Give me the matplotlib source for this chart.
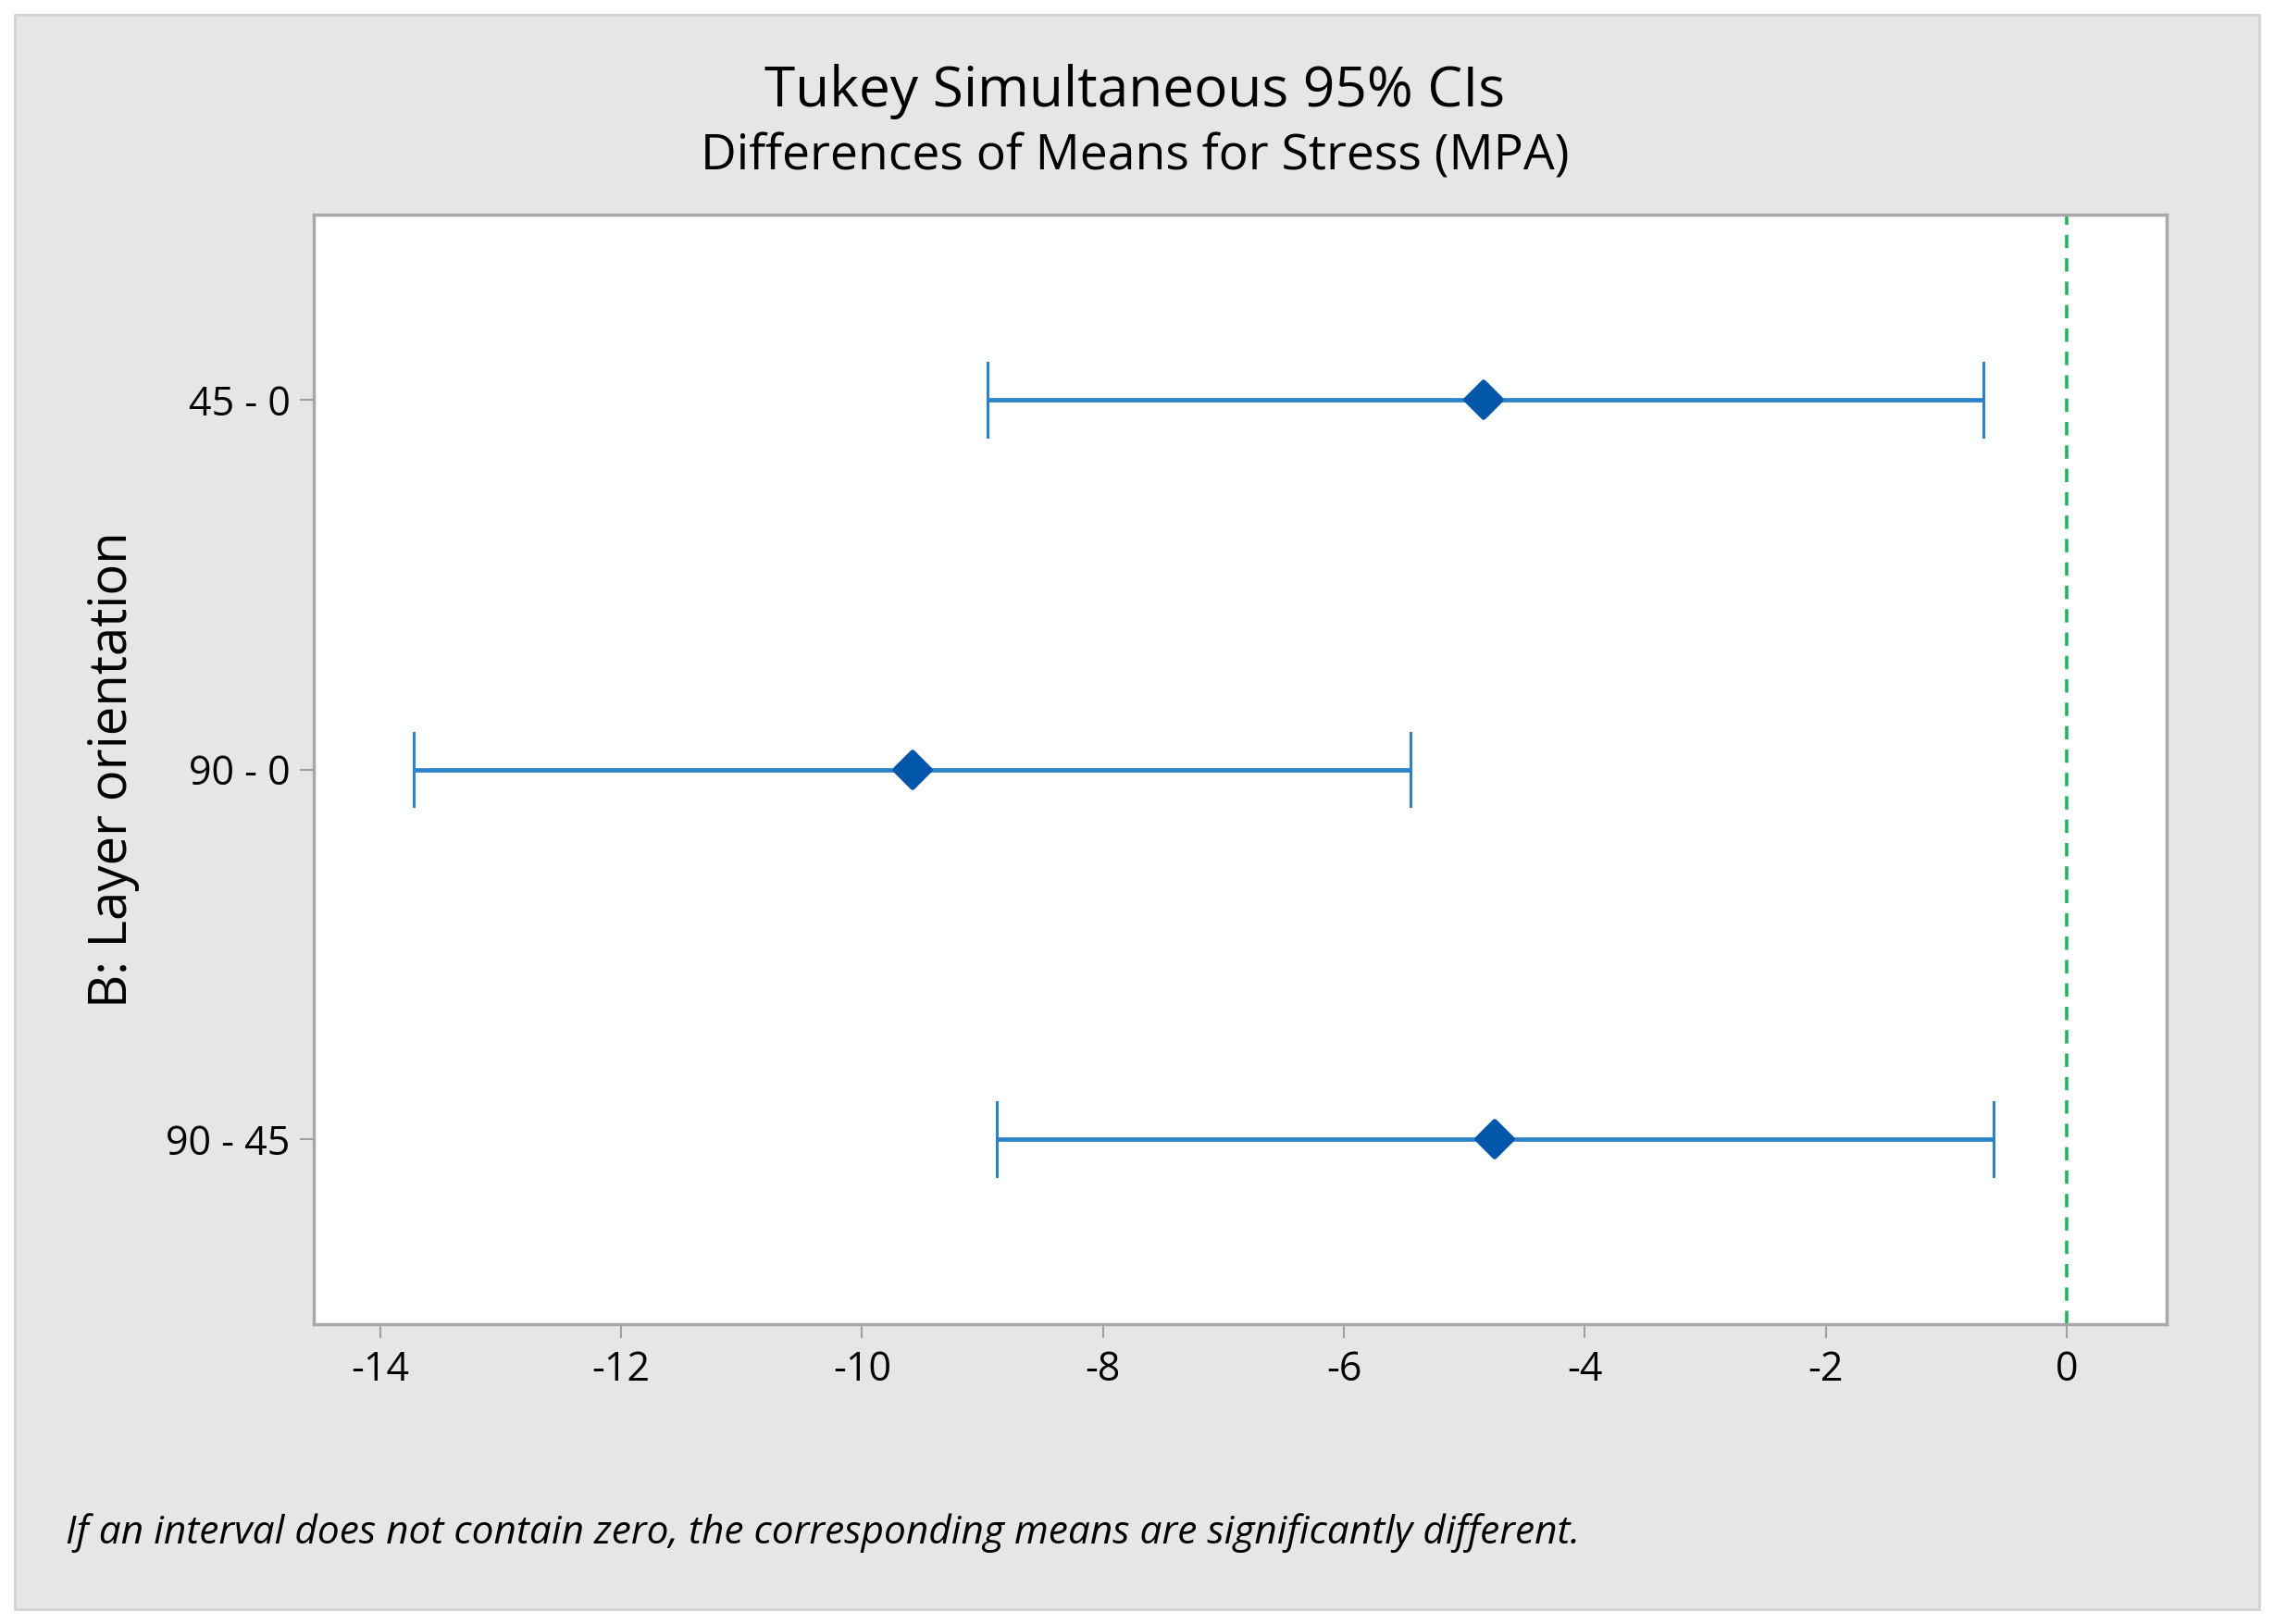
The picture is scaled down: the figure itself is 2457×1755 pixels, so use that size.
import matplotlib
matplotlib.use("Agg")
import matplotlib.pyplot as plt
from matplotlib.patches import Rectangle
from matplotlib.markers import MarkerStyle

# Data
comparisons = ["45 - 0", "90 - 0", "90 - 45"]
means = [-4.84, -9.58, -4.75]
lower = [-8.96, -13.72, -8.88]
upper = [-0.69, -5.45, -0.61]
xticks = [-14, -12, -10, -8, -6, -4, -2, 0]

plt.rcParams['font.family'] = ['Open Sans', 'DejaVu Sans']

fig = plt.figure(figsize=(24.57, 17.55), dpi=100)
fig.patch.set_facecolor('white')
# grey outer panel
fig.patches.append(Rectangle((16/2457, 1 - 1739/1755), (2441-16)/2457, (1739-16)/1755,
                             transform=fig.transFigure, facecolor='#e6e6e6',
                             edgecolor='#d4d4d4', linewidth=2, zorder=-10))

ax = fig.add_axes([0.1378, 0.1846, 0.815, 0.6832])
ax.set_zorder(5)
ax.set_facecolor('white')

ypos = list(range(1, len(comparisons) + 1))
line_c = '#2b82c9'
for y, m, lo, hi in zip(ypos, means, lower, upper):
    ax.plot([lo, hi], [y, y], color=line_c, lw=3.4, solid_capstyle='butt', zorder=2)
    ax.plot([lo, lo], [y - 0.1, y + 0.1], color=line_c, lw=2.2, zorder=2)
    ax.plot([hi, hi], [y - 0.1, y + 0.1], color=line_c, lw=2.2, zorder=2)
ax.plot(means, ypos, linestyle='none', marker=MarkerStyle('D', joinstyle='round'),
        markersize=19, color='#0056a8', markeredgecolor='#0056a8',
        markeredgewidth=4, zorder=3)

ax.axvline(0, color='#22b35e', lw=2.6, linestyle=(0, (4, 3)), zorder=1)

ax.set_xlim(-14.554, 0.83)
ax.set_ylim(3.5, 0.5)
ax.set_xticks(xticks)
ax.set_xticklabels([str(t) for t in xticks])
ax.set_yticks(ypos)
ax.set_yticklabels(comparisons)
ax.tick_params(axis='both', colors='#a0a0a0', labelcolor='black', labelsize=31,
               length=11, width=1.5)
ax.tick_params(axis='x', pad=9)
ax.tick_params(axis='y', pad=7)
for s in ax.spines.values():
    s.set_color('#a8a8a8')
    s.set_linewidth(2.5)

ax.set_ylabel('B: Layer orientation', fontsize=40.5, labelpad=20)

fig.text(0.499, 0.9435, 'Tukey Simultaneous 95% CIs', ha='center', va='center', fontsize=43.5)
fig.text(0.499, 0.9035, 'Differences of Means for Stress (MPA)', ha='center', va='center', fontsize=38.5)
fig.text(45*1.567/2457, 1 - 1057*1.567/1755,
         'If an interval does not contain zero, the corresponding means are significantly different.',
         ha='left', va='center', fontsize=30.5, style='italic')

fig.savefig('out.png', dpi=100, facecolor=fig.get_facecolor())
